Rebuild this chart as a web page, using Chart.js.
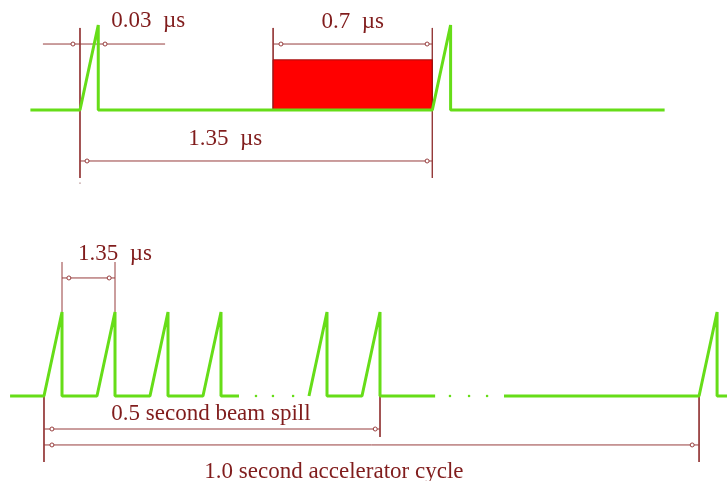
<!DOCTYPE html>
<html>
<head>
<meta charset="utf-8">
<script src="https://cdn.jsdelivr.net/npm/chart.js@4"></script>
<style>
  body { margin: 0; background: #fff; }
  .wrap { position: relative; width: 727px; height: 481px; }
  canvas { position: absolute; left: 0; }
</style>
</head>
<body>
<div class="wrap">
  <canvas id="top" width="727" height="200" style="top:0"></canvas>
  <canvas id="bottom" width="727" height="281" style="top:200px"></canvas>
</div>
<script>
// ---- top panel: one bunch period, time in µs (drawing units) ----
const topTimes  = [-0.19, 0, 0.07, 0.07, 1.35, 1.42, 1.42, 2.24];
const topLevels = [0, 0, 1, 0, 0, 1, 0, 0];
const beamTimes  = [0.74, 0.74, 1.35, 1.35];
const beamLevels = [0, 0.59, 0.59, 0];

// ---- bottom panel: pulse train, x in pulse periods ----
const trainSlots  = [-0.64, 0, 0.34, 0.34, 1, 1.34, 1.34, 2, 2.34, 2.34, 3, 3.34, 3.34, 3.68, 4,
                     5, 5.34, 5.34, 6, 6.34, 6.34, 7.38, 8, 8.68, 12.36, 12.70, 12.70, 12.89];
const trainLevels = [0, 0, 1, 0, 0, 1, 0, 0, 1, 0, 0, 1, 0, 0, null,
                     0, 1, 0, 0, 1, 0, 0, null, 0, 0, 1, 0, 0];
const gapDots = [4.0, 4.32, 4.7, 7.66, 8.02, 8.36];

// dimension annotations (data units of each panel)
const topDimLines = [
  [[0, 0.965], [0, -0.8]],
  [[0.74, 0.965], [0.74, 0]],
  [[1.35, 0.965], [1.35, -0.8]],
  [[-0.142, 0.776], [0.326, 0.776]],
  [[0.74, 0.776], [1.35, 0.776]],
  [[0, -0.6], [1.35, -0.6]]
];
const topDimMarks = [[-0.027, 0.776], [0.096, 0.776], [0.77, 0.776], [1.33, 0.776], [0.027, -0.6], [1.33, -0.6]];
const topDimDots = [[0, -0.86]];
const topLabels = [
  { text: "0.03  µs", x: 0.12, y: 1.047, align: "left" },
  { text: "0.7  µs", x: 1.045, y: 1.035, align: "center" },
  { text: "1.35  µs", x: 0.556, y: -0.34, align: "center" }
];

const botDimLines = [
  [[0.34, 1], [0.34, 1.595]],
  [[1.34, 1], [1.34, 1.595]],
  [[0.34, 1.405], [1.34, 1.405]],
  [[0, 0], [0, -0.786]],
  [[6.34, 0], [6.34, -0.488]],
  [[0, -0.393], [6.34, -0.393]],
  [[0, -0.583], [12.36, -0.583]],
  [[12.36, 0], [12.36, -0.786]]
];
const botDimMarks = [[0.47, 1.405], [1.23, 1.405], [0.15, -0.393], [6.25, -0.393], [0.15, -0.583], [12.23, -0.583]];
const botLabels = [
  { text: "1.35  µs", x: 0.64, y: 1.69, align: "left" },
  { text: "0.5 second beam spill", x: 3.15, y: -0.214, align: "center" },
  { text: "1.0 second accelerator cycle", x: 5.47, y: -0.905, align: "center" }
];

const GREEN = "#66dd18";
const BROWN = "#963c3c";
const TEXT = "#801c1c";

const zip = (xs, ys) => xs.map((x, i) => ({ x: x, y: ys[i] }));

function dimDatasets(lines, marks, dots) {
  const sets = lines.map(l => ({
    data: l.map(p => ({ x: p[0], y: p[1] })),
    showLine: true, borderColor: BROWN, borderWidth: 1, pointRadius: 0, order: 3
  }));
  sets.push({
    data: marks.map(p => ({ x: p[0], y: p[1] })),
    showLine: false, pointStyle: "circle", pointRadius: 2,
    pointBackgroundColor: "#fff", pointBorderColor: BROWN, pointBorderWidth: 1, order: 0
  });
  sets.push({
    data: (dots || []).map(p => ({ x: p[0], y: p[1] })),
    showLine: false, pointStyle: "rect", pointRadius: 0.8,
    pointBackgroundColor: "#a07070", pointBorderWidth: 0, order: 0
  });
  return sets;
}

const labelPlugin = {
  id: "labels",
  afterDatasetsDraw(chart, args, opts) {
    const ctx = chart.ctx;
    ctx.save();
    ctx.font = '23px "Liberation Serif"';
    ctx.fillStyle = TEXT;
    ctx.textBaseline = "middle";
    opts.items.forEach(l => {
      ctx.textAlign = l.align;
      ctx.fillText(l.text, chart.scales.x.getPixelForValue(l.x), chart.scales.y.getPixelForValue(l.y));
    });
    ctx.restore();
  }
};

function makeChart(id, datasets, xr, yr, labels) {
  return new Chart(document.getElementById(id), {
    type: "scatter",
    data: { datasets: datasets },
    options: {
      responsive: false,
      animation: false,
      devicePixelRatio: 1,
      layout: { padding: 0, autoPadding: false },
      scales: {
        x: { type: "linear", display: false, min: xr[0], max: xr[1] },
        y: { type: "linear", display: false, min: yr[0], max: yr[1] }
      },
      plugins: { legend: { display: false }, tooltip: { enabled: false }, labels: { items: labels } }
    },
    plugins: [labelPlugin]
  });
}

makeChart("top", [
  { data: zip(topTimes, topLevels), showLine: true, borderColor: GREEN, borderWidth: 3,
    borderJoinStyle: "bevel", pointRadius: 0, order: 1 },
  { data: zip(beamTimes, beamLevels), showLine: true, fill: "origin", backgroundColor: "#ff0000",
    borderColor: "#a01010", borderWidth: 1, pointRadius: 0, order: 2 },
  ...dimDatasets(topDimLines, topDimMarks, topDimDots)
], [-0.3065, 2.479], [-1.059, 1.294], topLabels);

makeChart("bottom", [
  { data: zip(trainSlots, trainLevels), showLine: true, spanGaps: false, borderColor: GREEN, borderWidth: 3,
    borderJoinStyle: "bevel", pointRadius: 0, order: 1 },
  { data: gapDots.map(x => ({ x: x, y: 0 })), showLine: false, pointStyle: "rect", pointRadius: 1.6,
    pointBackgroundColor: GREEN, pointBorderWidth: 0, order: 1 },
  ...dimDatasets(botDimLines, botDimMarks)
], [-0.83, 12.887], [-1.012, 2.333], botLabels);
</script>
</body>
</html>
